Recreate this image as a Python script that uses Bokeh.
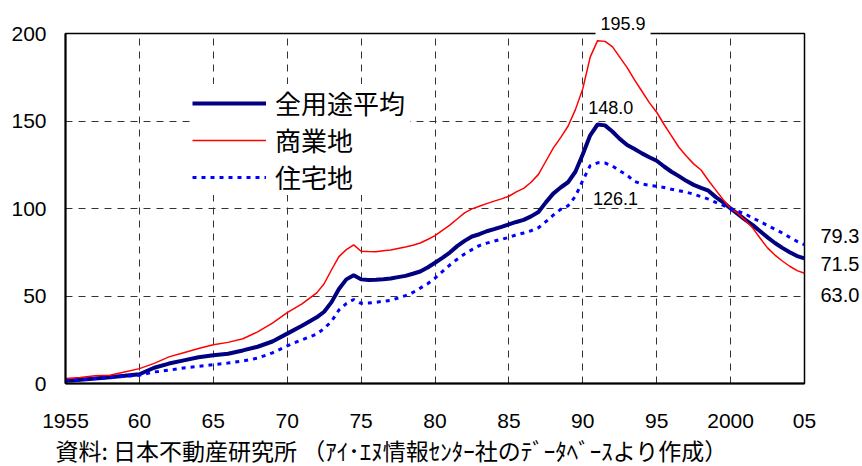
from bokeh.plotting import figure
from bokeh.models import Range1d, FixedTicker, Legend, LegendItem, Label, LinearAxis, Title
from bokeh.embed import file_html
from bokeh.resources import INLINE

# --- data (index, 2000 = 100) ---
years = [1955, 1956, 1957, 1958, 1959, 1960, 1961, 1962, 1963, 1964,
         1965, 1966, 1967, 1968, 1969, 1970, 1971,
         1972.0, 1972.5, 1973.0, 1973.5, 1974.0, 1974.5, 1975.0, 1975.5,
         1976.0, 1976.5, 1977.0, 1977.5, 1978.0, 1978.5, 1979.0, 1979.5,
         1980.0, 1980.5, 1981.0, 1981.5, 1982.0, 1982.5, 1983.0, 1983.5,
         1984.0, 1984.5, 1985.0, 1985.5, 1986.0, 1986.5, 1987.0, 1987.5,
         1988.0, 1988.5, 1989.0, 1989.5, 1990.0, 1990.5, 1991.0, 1991.5,
         1992.0, 1992.5, 1993.0, 1993.5, 1994.0, 1994.5, 1995.0, 1995.5,
         1996.0, 1996.5, 1997.0, 1997.5, 1998.0, 1998.5, 1999.0, 1999.5,
         2000.0, 2000.5, 2001.0, 2001.5, 2002.0, 2002.5, 2003.0, 2003.5,
         2004.0, 2004.5, 2005.0]

all_use = [1.5, 2.1, 2.8, 3.6, 4.4, 5.3, 9.0, 11.4, 13.2, 15.0,
           16.1, 17.0, 18.9, 21.0, 24.0, 28.5, 33.0,
           37.8, 41.0, 46.5, 54.0, 59.5, 61.9, 59.5, 59.2,
           59.3, 59.6, 60.0, 60.8, 61.5, 62.7, 64.0, 66.3,
           69.0, 71.8, 74.8, 78.5, 81.5, 84.0, 85.3, 87.0,
           88.2, 89.5, 90.9, 92.3, 93.5, 95.5, 98.0, 103.5,
           108.5, 112.0, 115.0, 121.0, 131.0, 141.8, 148.0, 147.5,
           144.0, 139.8, 136.3, 134.0, 131.5, 129.3, 127.3, 124.0,
           121.0, 118.5, 115.8, 113.5, 111.8, 110.2, 106.5, 103.5,
           100.0, 96.8, 93.5, 90.5, 87.0, 83.5, 80.3, 77.5,
           75.0, 72.8, 71.5]

commercial = [2.8, 3.4, 4.4, 4.7, 6.6, 8.5, 11.5, 15.2, 17.6, 20.0,
              22.2, 23.5, 25.6, 29.5, 34.5, 40.5, 45.5,
              51.8, 57.0, 65.0, 72.5, 76.5, 79.2, 75.6, 75.4,
              75.3, 75.8, 76.3, 77.2, 78.0, 79.0, 80.3, 82.3,
              84.5, 87.5, 90.5, 94.0, 97.5, 99.8, 101.3, 102.8,
              104.2, 105.5, 107.0, 109.5, 111.5, 115.0, 119.5, 127.0,
              134.5, 140.5, 147.0, 156.5, 168.5, 186.5, 195.9, 195.5,
              192.5, 186.5, 180.5, 173.5, 167.0, 160.5, 155.0, 148.0,
              141.5, 135.0, 130.0, 125.5, 122.0, 116.0, 110.5, 105.0,
              100.0, 97.2, 93.2, 88.8, 83.0, 77.5, 73.4, 70.0,
              67.0, 64.5, 63.0]

residential = [1.5, 2.1, 2.8, 3.2, 4.2, 4.7, 6.6, 7.6, 8.9, 9.8,
               10.8, 11.7, 12.9, 14.5, 17.5, 21.5, 25.0,
               28.2, 31.5, 35.5, 42.0, 45.7, 48.0, 45.8, 46.0,
               46.4, 47.0, 47.5, 48.8, 50.2, 52.0, 54.5, 57.0,
               60.2, 64.0, 67.7, 71.0, 74.0, 76.5, 78.8, 80.2,
               81.4, 82.4, 83.5, 85.0, 86.0, 87.3, 89.0, 92.5,
               96.2, 99.5, 101.5, 107.0, 116.0, 124.5, 126.1, 126.0,
               124.3, 121.5, 119.0, 115.5, 114.0, 113.3, 112.7, 112.0,
               111.0, 110.2, 109.3, 108.2, 106.8, 105.4, 103.5, 101.8,
               100.0, 98.5, 96.8, 94.5, 92.5, 90.3, 88.2, 86.0,
               83.5, 81.2, 79.3]

series_names = ["全用途平均", "商業地", "住宅地"]
x_ticks = [1955, 1960, 1965, 1970, 1975, 1980, 1985, 1990, 1995, 2000, 2005]
x_tick_labels = ["1955", "60", "65", "70", "75", "80", "85", "90", "95", "2000", "05"]
y_ticks = [0, 50, 100, 150, 200]
source_note = "資料: 日本不動産研究所 （ｱｲ･ｴﾇ情報ｾﾝﾀｰ社のﾃﾞｰﾀﾍﾞｰｽより作成）"

NUM_FONT = "Liberation Sans"
JP_FONT = "Noto Sans CJK JP"

p = figure(width=862, height=466, output_backend="svg", toolbar_location=None,
           x_range=Range1d(1955, 2005), y_range=Range1d(0, 200),
           min_border_left=65, min_border_right=47, min_border_top=33,
           min_border_bottom=81)

p.background_fill_color = "white"
p.border_fill_color = "white"
p.outline_line_color = "black"
p.outline_line_width = 1.5

# axes
p.xaxis.ticker = FixedTicker(ticks=x_ticks)
p.xaxis.major_label_overrides = {t: s for t, s in zip(x_ticks, x_tick_labels)}
p.yaxis.ticker = FixedTicker(ticks=y_ticks)
for ax in (p.xaxis[0], p.yaxis[0]):
    ax.axis_line_color = "black"
    ax.axis_line_width = 2
    ax.major_tick_line_color = None
    ax.minor_tick_line_color = None
    ax.major_label_text_font = NUM_FONT
    ax.major_label_text_font_size = "21px"
    ax.major_label_text_color = "black"
p.xaxis.major_label_standoff = 24
p.yaxis.major_label_standoff = 13

# end-of-series values, shown at the right of the frame
end_vals = [residential[-1], all_use[-1], commercial[-1]]
end_label_pos = [84.1, 68.2, 50.6]
right_axis = LinearAxis(ticker=FixedTicker(ticks=end_label_pos),
                        major_label_overrides={pos: f"{v:.1f}" for pos, v in zip(end_label_pos, end_vals)},
                        axis_line_color=None, major_tick_line_color=None,
                        minor_tick_line_color=None, major_label_standoff=10,
                        major_label_text_font=NUM_FONT,
                        major_label_text_font_size="20px",
                        major_label_text_color="black")
p.add_layout(right_axis, "right")

# grid
p.xgrid.ticker = FixedTicker(ticks=x_ticks[1:-1])
p.ygrid.ticker = FixedTicker(ticks=y_ticks[1:-1])
for g in (p.xgrid[0], p.ygrid[0]):
    g.grid_line_color = "#333333"
    g.grid_line_width = 1
    g.grid_line_dash = "7 6"

# lines
r_all = p.line(years, all_use, line_color="#000080", line_width=4)
r_com = p.line(years, commercial, line_color="#FF0000", line_width=1.5)
r_res = p.line(years, residential, line_color="#0000FF", line_width=3,
               line_dash="4 5")

legend = Legend(items=[LegendItem(label=series_names[0], renderers=[r_all]),
                       LegendItem(label=series_names[1], renderers=[r_com]),
                       LegendItem(label=series_names[2], renderers=[r_res])],
                location=(127, 188))
legend.background_fill_color = "white"
legend.background_fill_alpha = 1.0
legend.border_line_color = None
legend.padding = 10
legend.spacing = -2
legend.glyph_width = 74
legend.glyph_height = 20
legend.label_height = 20
legend.label_width = 135
legend.label_standoff = 9
legend.label_text_font = JP_FONT
legend.label_text_font_size = "26px"
legend.label_text_color = "black"
legend.margin = 0
p.add_layout(legend)

# peak labels
p.add_layout(Label(x=1991.89, y=157.7, text=f"{max(all_use):.1f}", text_align="center",
                   text_baseline="middle", text_font=NUM_FONT, text_font_size="18px",
                   text_color="black"))
p.add_layout(Label(x=1992.22, y=105.7, text=f"{max(residential):.1f}", text_align="center",
                   text_baseline="middle", text_font=NUM_FONT, text_font_size="18px",
                   text_color="black"))

peak_title = Title(text=f"{max(commercial):.1f}", align="left", offset=530,
                   standoff=-3, text_font=NUM_FONT, text_font_size="18px",
                   text_font_style="normal", text_color="black",
                   background_fill_color="white", padding=5)
p.add_layout(peak_title, "above")

footer = Title(text=source_note, align="left", offset=-10, standoff=0,
               text_font=JP_FONT, text_font_size="23px",
               text_font_style="normal", text_color="black")
p.add_layout(footer, "below")

open("out.html", "w").write(file_html(p, INLINE))
